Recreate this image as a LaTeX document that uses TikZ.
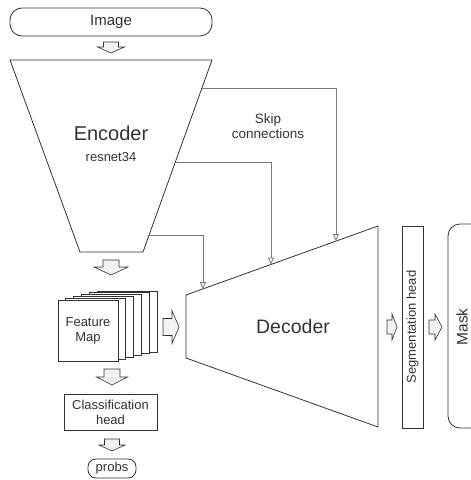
\documentclass[tikz,border=0pt]{standalone}
\usepackage{fontspec}
\setmainfont{Liberation Sans}
\usetikzlibrary{arrows.meta}
\definecolor{ink}{HTML}{333333}
\definecolor{skipc}{HTML}{7A7A7A}
\definecolor{afill}{HTML}{F2F2F2}
\newcommand{\BlkDown}[6]{% cx, y0, sw, hw, ys, yt
  \draw[barrow] ({#1-#3},#2) -- ({#1+#3},#2) -- ({#1+#3},#5) -- ({#1+#4},#5) -- (#1,#6) -- ({#1-#4},#5) -- ({#1-#3},#5) -- cycle;}
\newcommand{\BlkRight}[6]{% cy, x0, sw, hw, xs, xt
  \draw[barrow] (#2,{#1-#3}) -- (#2,{#1+#3}) -- (#5,{#1+#3}) -- (#5,{#1+#4}) -- (#6,#1) -- (#5,{#1-#4}) -- (#5,{#1-#3}) -- cycle;}
\begin{document}
\begin{tikzpicture}[x=1pt,y=-1pt,
  every node/.style={text=ink, font=\fontsize{13}{15}\selectfont, align=center, inner sep=0pt},
  shape line/.style={draw=ink, line width=0.8pt},
  barrow/.style={draw=ink, fill=afill, line width=0.6pt, line join=miter},
  skipline/.style={draw=skipc, line width=0.8pt, -{Triangle[open, length=7pt, width=6pt, fill=white]}},
  box/.style={shape line, fill=white, rectangle},
]
\useasboundingbox (0,0) rectangle (471,480);
% Image
\node[shape line, rounded corners=12pt, minimum width=202pt, minimum height=28pt, font=\fontsize{15}{17}\selectfont] (img) at (111,22) {Image};
\BlkDown{111}{42}{7.5}{13.5}{47}{53}
% Encoder
\coordinate (e1) at (10,60);
\coordinate (e2) at (212,60);
\coordinate (e3) at (143,252);
\coordinate (e4) at (80,252);
\draw[shape line] (e1) -- (e2) -- (e3) -- (e4) -- cycle;
\node[font=\fontsize{20}{22}\selectfont] (enc) at (111,133) {Encoder};
\node[font=\fontsize{13}{15}\selectfont] (res) at (111,157) {resnet34};
% Decoder
\coordinate (d1) at (186,295);
\coordinate (d2) at (378,226);
\coordinate (d3) at (378,427);
\coordinate (d4) at (186,358);
\draw[shape line] (d1) -- (d2) -- (d3) -- (d4) -- cycle;
\node[font=\fontsize{19.5}{22}\selectfont] (dec) at (293,327) {Decoder};
% Skip connections
\coordinate (s1a) at (202,88);
\coordinate (s1b) at (336,241);
\coordinate (s2a) at (175,162);
\coordinate (s2b) at (271,264.5);
\coordinate (s3a) at (149,235);
\coordinate (s3b) at (203,289);
\draw[skipline] (s1a) -| (s1b);
\draw[skipline] (s2a) -| (s2b);
\draw[skipline] (s3a) -| (s3b);
\node[font=\fontsize{13.5}{15}\selectfont] (skiptxt) at (268,126) {Skip\\connections};
% Feature map stack
\foreach \i in {5,4,3,2,1} {
  \draw[shape line, fill=white] ({58+7.8*\i},{300-1.8*\i}) rectangle ({118+7.8*\i},{361-1.8*\i});
}
\node[box, minimum width=60pt, minimum height=61pt, font=\fontsize{13}{15}\selectfont] (fm) at (88,330.5) {Feature\\Map};
\BlkDown{111}{260}{8}{17}{267}{275}
\BlkRight{327}{163}{8.5}{16.5}{172}{179}
\BlkDown{112}{369}{8}{15.5}{377}{385}
% Classification head
\node[box, minimum width=93pt, minimum height=36pt] (cls) at (110.5,412) {Classification\\head};
\BlkDown{112}{439}{7.5}{13}{445}{451}
\node[shape line, rounded corners=8pt, minimum width=48pt, minimum height=19pt, font=\fontsize{13}{15}\selectfont] (probs) at (112,468.5) {probs};
% Segmentation head
\node[box, minimum width=21pt, minimum height=202pt] (seg) at (412.5,327) {};
\node[rotate=90, font=\fontsize{13}{15}\selectfont] (segt) at (seg.center) {Segmentation head};
\BlkRight{327}{387}{7}{13}{392}{397}
\BlkRight{327}{429}{7}{13}{435}{442}
% Mask
\draw[shape line, rounded corners=12pt] (480,224) -- (448,224) -- (448,428) -- (480,428);
\node[rotate=90, font=\fontsize{15.5}{17}\selectfont] (mask) at (462,327) {Mask};
\end{tikzpicture}
\end{document}
